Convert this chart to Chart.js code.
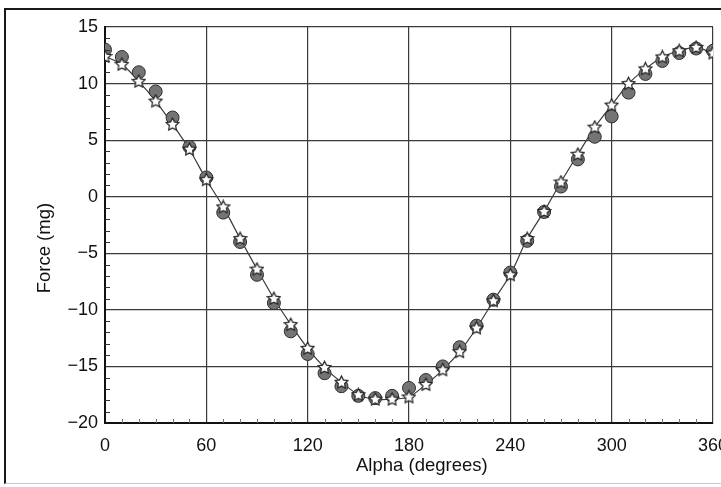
<!DOCTYPE html>
<html>
<head>
<meta charset="utf-8">
<script src="https://cdn.jsdelivr.net/npm/chart.js@4.4.1/dist/chart.umd.min.js"></script>
<style>
  html, body { margin:0; padding:0; background:#fff; overflow:hidden; width:721px; height:487px; }
  #frame { position:absolute; left:4px; top:8px; width:800px; height:473px; border:2px solid #1a1a1a; border-bottom:1px solid #c8c8c8; }
  #chart { position:absolute; left:0; top:0; }
</style>
</head>
<body>
<div id="frame"></div>
<canvas id="chart" width="740" height="487"></canvas>
<script>
// Datos
const alpha = [0,10,20,30,40,50,60,70,80,90,100,110,120,130,140,150,160,170,180,
               190,200,210,220,230,240,250,260,270,280,290,300,310,320,330,340,350,360];
const measured = [13.0,12.35,11.0,9.3,7.0,4.4,1.7,-1.4,-4.0,-6.9,-9.4,-11.9,-13.9,-15.6,-16.75,-17.6,-17.8,-17.6,-16.9,
                  -16.2,-15.0,-13.3,-11.4,-9.1,-6.7,-3.9,-1.35,0.9,3.3,5.3,7.1,9.2,10.85,12.0,12.7,13.1,12.9];
const theory = [12.4,11.7,10.2,8.45,6.4,4.2,1.5,-0.9,-3.7,-6.4,-9.0,-11.3,-13.4,-15.1,-16.4,-17.5,-17.9,-17.9,-17.7,
                -16.6,-15.3,-13.7,-11.6,-9.2,-6.9,-3.7,-1.3,1.3,3.75,6.15,8.1,10.0,11.3,12.35,12.9,13.2,12.7];
const xTickLabels = ['0','60','120','180','240','300','360'];
const yTickLabels = ['\u221220','\u221215','\u221210','\u22125','0','5','10','15'];

const pts = arr => alpha.map((a,i)=>({x:a, y:arr[i]}));

// Estrella blanca como pointStyle
function makeStar(){
    const c = document.createElement('canvas');
    c.width = 15; c.height = 15;
    const g = c.getContext('2d');
    g.beginPath();
    for(let i=0;i<10;i++){
        const r = i%2===0 ? 6.6 : 3.3;
        const ang = -Math.PI/2 + i*Math.PI/5;
        const px = 7.5 + r*Math.cos(ang), py = 7.8 + r*Math.sin(ang);
        if(i===0) g.moveTo(px,py); else g.lineTo(px,py);
    }
    g.closePath();
    g.fillStyle = '#fff'; g.fill();
    g.strokeStyle = '#222'; g.lineWidth = 1.2; g.stroke();
    return c;
}

// Marcas menores de los ejes
const minorTicks = {
    id:'minorTicks',
    afterDatasetsDraw(chart){
        const {ctx, chartArea, scales:{x,y}} = chart;
        ctx.save();
        ctx.strokeStyle = '#333'; ctx.lineWidth = 1;
        for(let v=-19; v<15; v++){
            if(v%5===0) continue;
            const py = Math.round(y.getPixelForValue(v))+0.5;
            ctx.beginPath(); ctx.moveTo(chartArea.left, py); ctx.lineTo(chartArea.left+5, py); ctx.stroke();
        }
        ctx.strokeStyle = '#777';
        for(let v=10; v<360; v+=10){
            if(v%60===0) continue;
            const px = Math.round(x.getPixelForValue(v))+0.5;
            ctx.beginPath(); ctx.moveTo(px, chartArea.bottom); ctx.lineTo(px, chartArea.bottom-4); ctx.stroke();
        }
        ctx.restore();
    }
};

const font = {family:'"Liberation Sans", Arial, sans-serif', size:18};
const titleFont = {family:'"Liberation Sans", Arial, sans-serif', size:18.5};

new Chart(document.getElementById('chart'), {
    type:'scatter',
    data:{
        datasets:[
            { data:pts(theory), showLine:true, borderColor:'#3a3a3a', borderWidth:1.2, pointRadius:0, tension:0.25, order:3 },
            { data:pts(measured), showLine:false, pointStyle:'circle', pointRadius:6.5,
              backgroundColor:'#747474', borderColor:'#2e2e2e', borderWidth:1, order:2 },
            { data:pts(theory), showLine:false, pointStyle:makeStar(), pointRadius:7, order:1 }
        ]
    },
    options:{
        responsive:false,
        animation:false,
        layout:{ padding:{left:0, top:27, right:26, bottom:0} },
        plugins:{ legend:{display:false}, tooltip:{enabled:false} },
        scales:{
            x:{
                type:'linear', min:0, max:360,
                afterFit: s => { s.height = 64; },
                grid:{ color:'#3a3a3a', lineWidth:1.2, drawTicks:false },
                border:{ display:true, color:'#111', width:2 },
                ticks:{ stepSize:60, padding:12, color:'#111', font,
                        callback:(v,i)=>xTickLabels[i] },
                title:{ display:true, text:'     Alpha (degrees)', color:'#111', font:titleFont, padding:{top:0,bottom:10} }
            },
            y:{
                type:'linear', min:-20, max:15,
                afterFit: s => { s.width = 105; },
                grid:{ color:'#3a3a3a', lineWidth:1.2, drawTicks:false },
                border:{ display:true, color:'#111', width:2 },
                ticks:{ stepSize:5, padding:7, color:'#111', font,
                        callback:(v,i)=>yTickLabels[i] },
                title:{ display:true, text:'Force (mg)         ', color:'#111', font:titleFont, padding:{top:34,bottom:0} }
            }
        }
    },
    plugins:[minorTicks]
});
</script>
</body>
</html>
